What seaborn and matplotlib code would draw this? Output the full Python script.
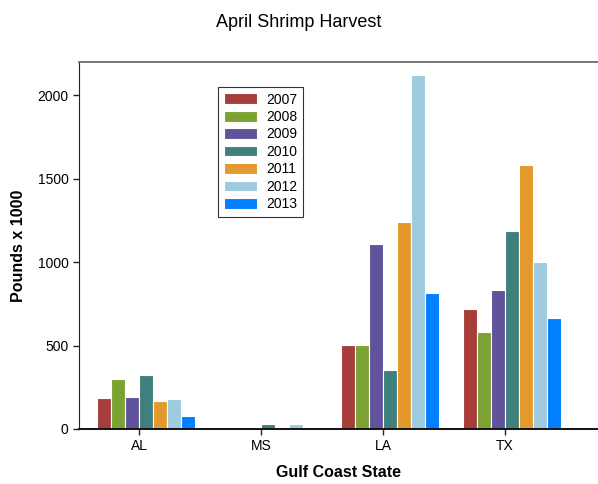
import pandas as pd
import matplotlib
matplotlib.use("Agg")
import matplotlib.pyplot as plt
import seaborn as sns

# -----------------------------------------------------
# DATA (pounds x 1000)
# -----------------------------------------------------
states = ["AL", "MS", "LA", "TX"]
years = ["2007", "2008", "2009", "2010", "2011", "2012", "2013"]

harvest_2007 = [187, 0, 503, 721]
harvest_2008 = [298, 0, 505, 580]
harvest_2009 = [193, 0, 1107, 831]
harvest_2010 = [322, 28, 352, 1188]
harvest_2011 = [170, 3, 1242, 1580]
harvest_2012 = [182, 28, 2120, 999]
harvest_2013 = [78, 0, 815, 663]

year_colors = ["#A63D3B", "#7BA232", "#61529C", "#3F7F7C",
               "#E3992B", "#9FCBE0", "#0080FF"]

series = [harvest_2007, harvest_2008, harvest_2009, harvest_2010,
          harvest_2011, harvest_2012, harvest_2013]

rows = []
for year, values in zip(years, series):
    for state, v in zip(states, values):
        rows.append({"State": state, "Year": year, "Pounds": v})
df = pd.DataFrame(rows)

# -----------------------------------------------------
# PLOT
# -----------------------------------------------------
sns.set_style("white")
plt.rcParams["font.family"] = ["Liberation Sans", "DejaVu Sans"]
plt.rcParams["text.color"] = "black"
plt.rcParams["axes.labelcolor"] = "black"
plt.rcParams["xtick.color"] = "black"
plt.rcParams["ytick.color"] = "black"

fig = plt.figure(figsize=(5.98, 4.84), dpi=100)
ax = fig.add_axes([79 / 598, 55 / 484, 1 - 79 / 598, 367 / 484])

sns.barplot(
    data=df,
    x="State",
    y="Pounds",
    hue="Year",
    order=states,
    hue_order=years,
    palette=year_colors,
    width=0.8,
    edgecolor="white",
    linewidth=0.8,
    saturation=1,
    ax=ax,
)

# the state ticks sit at the left edge of the middle bar, as in the original
bar_w = 0.8 / len(years)
ax.set_xticks([i - bar_w / 2 for i in range(len(states))])
ax.set_xticklabels(states)
ax.set_xlim(-0.55, 3.705)
ax.set_ylim(0, 2200)
ax.set_yticks([0, 500, 1000, 1500, 2000])

ax.set_xlabel("Gulf Coast State", fontsize=11.5, fontweight="bold", labelpad=8)
ax.set_ylabel("Pounds x 1000", fontsize=11.5, fontweight="bold", labelpad=8)
fig.suptitle("April Shrimp Harvest", fontsize=13, y=0.972)

ax.tick_params(axis="both", labelsize=10, length=4, width=1, color="#222222",
               direction="out", bottom=True, left=True)

ax.spines["left"].set_color("#222222")
ax.spines["bottom"].set_color("#111111")
ax.spines["bottom"].set_linewidth(1.4)
ax.spines["top"].set_color("#777777")
ax.spines["top"].set_linewidth(1.4)
ax.spines["right"].set_visible(False)

leg = ax.legend(
    loc="upper left",
    bbox_to_anchor=(218 / 598, 1 - 87 / 484),
    bbox_transform=fig.transFigure,
    fontsize=10,
    frameon=True,
    fancybox=False,
    edgecolor="black",
    handlelength=2.4,
    handleheight=0.8,
    handletextpad=0.7,
    labelspacing=0.25,
    borderpad=0.4,
    borderaxespad=0,
)
leg.get_frame().set_linewidth(0.8)

plt.savefig("out.png", dpi=100)
